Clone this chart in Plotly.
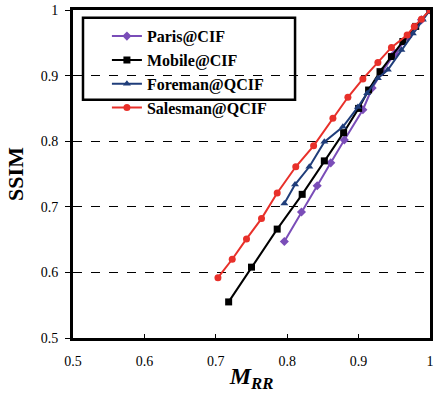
import plotly.graph_objects as go

paris_x = [0.796, 0.820, 0.842, 0.861, 0.880, 0.906, 0.919, 0.933, 0.951, 0.969, 0.988, 1.0]
paris_y = [0.647, 0.692, 0.732, 0.767, 0.802, 0.848, 0.881, 0.906, 0.934, 0.959, 0.985, 1.0]

mobile_x = [0.718, 0.750, 0.786, 0.821, 0.852, 0.879, 0.900, 0.914, 0.930, 0.946, 0.962, 0.980, 1.0]
mobile_y = [0.555, 0.608, 0.666, 0.719, 0.770, 0.813, 0.850, 0.878, 0.906, 0.929, 0.952, 0.975, 1.0]

foreman_x = [0.796, 0.811, 0.831, 0.852, 0.878, 0.899, 0.912, 0.927, 0.941, 0.960, 0.976, 0.990, 1.0]
foreman_y = [0.705, 0.734, 0.761, 0.799, 0.822, 0.852, 0.873, 0.896, 0.909, 0.939, 0.964, 0.985, 1.0]

salesman_x = [0.703, 0.723, 0.743, 0.764, 0.786, 0.812, 0.837, 0.864, 0.885, 0.906, 0.927, 0.946, 0.968, 0.978, 0.988, 1.0]
salesman_y = [0.592, 0.620, 0.651, 0.682, 0.721, 0.761, 0.793, 0.835, 0.867, 0.895, 0.920, 0.943, 0.962, 0.975, 0.986, 1.0]

names = ["Paris@CIF", "Mobile@CIF", "Foreman@QCIF", "Salesman@QCIF"]
colors = ["#7A4DB8", "#000000", "#1F3D7A", "#E8302A"]
symbols = ["diamond", "square", "triangle-up", "circle"]
xs = [paris_x, mobile_x, foreman_x, salesman_x]
ys = [paris_y, mobile_y, foreman_y, salesman_y]

x_ticks = [0.5, 0.6, 0.7, 0.8, 0.9, 1.0]
x_tick_labels = ["0.5", "0.6", "0.7", "0.8", "0.9", "1"]
y_ticks = [0.5, 0.6, 0.7, 0.8, 0.9, 1.0]
y_tick_labels = ["0.5", "0.6", "0.7", "0.8", "0.9", "1"]

fig = go.Figure()
for n, c, s, x, y in zip(names, colors, symbols, xs, ys):
    fig.add_trace(go.Scatter(
        x=x, y=y, name="<b>" + n + "</b>", mode="lines+markers",
        line=dict(color=c, width=2),
        marker=dict(symbol=s, size=7, color=c),
    ))

serif = "Liberation Serif, Times New Roman, serif"

# legend frame
fig.add_shape(type="rect", xref="paper", yref="paper",
              x0=0.028, x1=0.622, y0=0.726, y1=0.976,
              line=dict(color="black", width=2.5), fillcolor="white", layer="below")

fig.update_layout(
    width=435, height=393,
    margin=dict(l=73, r=2, t=10, b=55),
    paper_bgcolor="white", plot_bgcolor="white",
    font=dict(family=serif, color="black", size=14),
    showlegend=True,
    legend=dict(
        x=0.095, y=0.972, xanchor="left", yanchor="top",
        borderwidth=0, bgcolor="rgba(0,0,0,0)",
        font=dict(family=serif, size=16, color="black"),
        tracegroupgap=0,
    ),
    xaxis=dict(
        range=[0.5, 1.0], tickvals=x_ticks, ticktext=x_tick_labels,
        ticks="inside", ticklen=4, tickcolor="black",
        showline=True, linecolor="black", linewidth=3, mirror=True,
        showgrid=False, zeroline=False,
        ticklabelstandoff=8,
        tickfont=dict(family=serif, size=14),
        title=dict(text="<b><i>M</i></b><sub><b><i>RR</i></b></sub>",
                   font=dict(family=serif, size=24), standoff=2),
    ),
    yaxis=dict(
        range=[0.5, 1.0], tickvals=y_ticks, ticktext=y_tick_labels,
        ticks="outside", ticklen=5, tickcolor="black",
        showline=True, linecolor="black", linewidth=3, mirror=True,
        showgrid=True, gridcolor="black", gridwidth=1, griddash="dash",
        zeroline=False,
        ticklabelstandoff=4,
        tickfont=dict(family=serif, size=14),
        title=dict(text="<b>SSIM</b>", font=dict(family=serif, size=22), standoff=12),
    ),
)

fig.write_html("out.html")
